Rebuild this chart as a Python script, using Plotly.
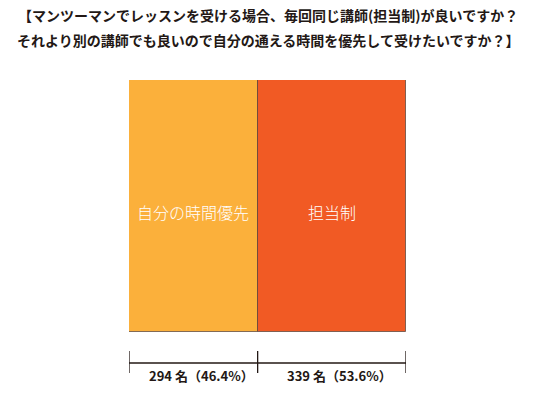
import plotly.graph_objects as go

categories = ["自分の時間優先", "担当制"]
counts = [294, 339]
colors = ["#FBB03B", "#F15A24"]
title_lines = [
    "【マンツーマンでレッスンを受ける場合、毎回同じ講師(担当制)が良いですか？",
    "それより別の講師でも良いので自分の通える時間を優先して受けたいですか？】",
]

W, H = 535, 394
total = sum(counts)
FONT = "Noto Sans CJK JP"

def py(p):
    return 1 - p / H

fig = go.Figure()

bases = []
acc = 0
for c in counts:
    bases.append(acc)
    acc += c

for cat, c, b, col in zip(categories, counts, bases, colors):
    fig.add_trace(go.Bar(
        x=[c], y=[0], base=[b], orientation="h",
        marker=dict(color=col, line=dict(color="rgba(90,70,60,0.75)", width=1)),
        width=1, showlegend=False, hoverinfo="skip",
        xaxis="x", yaxis="y",
    ))
    fig.add_annotation(
        x=b + c / 2, y=0, xref="x", yref="y", text=cat, showarrow=False,
        font=dict(family=FONT, size=16, color="white", weight=300), yshift=-6,
    )

# bracket axis below
edges = [0] + [b + c for b, c in zip(bases, counts)]
fig.add_trace(go.Scatter(
    x=[edges[0], edges[-1]], y=[0.6, 0.6], mode="lines",
    line=dict(color="#231815", width=1.3), showlegend=False, hoverinfo="skip",
    xaxis="x2", yaxis="y2",
))
for e in edges:
    fig.add_trace(go.Scatter(
        x=[e, e], y=[0.378, 0.867], mode="lines",
        line=dict(color="#231815", width=1.3), showlegend=False, hoverinfo="skip",
        xaxis="x2", yaxis="y2",
    ))
for b, c in zip(bases, counts):
    pct = c / total * 100
    fig.add_annotation(
        x=b + c / 2, y=0.333, xref="x2", yref="y2", yanchor="middle",
        text=f"<b>{c} 名（{pct:.1f}%）</b>", showarrow=False,
        font=dict(family=FONT, size=13, color="#231815"), xshift=8,
    )

for i, line in enumerate(title_lines):
    fig.add_annotation(
        x=0.5, y=py(15 + i * 25), xref="paper", yref="paper",
        xanchor="center", yanchor="middle",
        text=f"<b>{line}</b>", showarrow=False,
        font=dict(family=FONT, size=14, color="#231815"),
    )

xdom = [129 / W, 406 / W]
fig.update_layout(
    width=W, height=H, autosize=False,
    margin=dict(l=0, r=0, t=0, b=0),
    paper_bgcolor="white", plot_bgcolor="white",
    barmode="overlay", bargap=0,
    xaxis=dict(domain=xdom, range=[0, total], visible=False, fixedrange=True),
    yaxis=dict(domain=[py(332), py(80)], range=[-0.5, 0.5], visible=False, fixedrange=True),
    xaxis2=dict(domain=xdom, range=[0, total], visible=False, anchor="y2", fixedrange=True),
    yaxis2=dict(domain=[py(390), py(345)], range=[0, 1], visible=False, anchor="x2", fixedrange=True),
)

fig.write_html("out.html", config={"displayModeBar": False},
               post_script="document.body.style.margin='0';")
